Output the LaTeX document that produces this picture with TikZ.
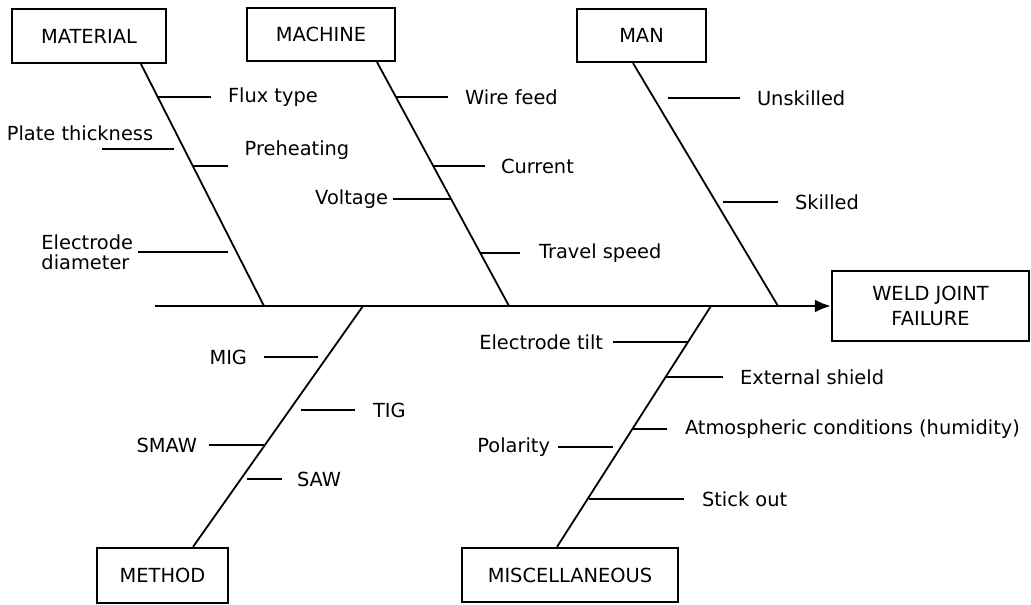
\documentclass[tikz,border=0pt]{standalone}
\usepackage{fontspec}
\setmainfont{DejaVu Sans}
\usetikzlibrary{arrows.meta,positioning}

\begin{document}
\begin{tikzpicture}[x=0.5pt,y=-0.5pt]
\tikzstyle{category} = [rectangle, draw, line width=1.1pt, inner sep=0pt,
font=\fontsize{9.7}{12.5}\selectfont, align=center]
\tikzstyle{cause} = [inner sep=0pt, outer sep=0pt,
font=\fontsize{9.7}{10}\selectfont, align=left]
\tikzstyle{bone} = [draw, line width=0.9pt]
\tikzstyle{tick} = [draw, line width=0.8pt]
\tikzstyle{spine} = [draw, line width=1.3pt, -{Latex[length=8pt,width=6.5pt]}]
\useasboundingbox (0,0) rectangle (1031,604);

% categories
\node [category, minimum width=77pt, minimum height=27pt] (material) at (89,36) {MATERIAL};
\node [category, minimum width=74pt, minimum height=26.5pt] (machine) at (321,34.5) {MACHINE};
\node [category, minimum width=64.5pt, minimum height=26.5pt] (man) at (641.5,35.5) {MAN};
\node [category, minimum width=65.5pt, minimum height=27.5pt] (method) at (162.5,575.5) {METHOD};
\node [category, minimum width=108pt, minimum height=27pt] (misc) at (570,575) {MISCELLANEOUS};
\node [category, minimum width=98.5pt, minimum height=35pt] (weld) at (930.5,306) {WELD JOINT\\FAILURE};

% spine
\coordinate (tail) at (155,306);
\path [spine] (tail) -- (weld);

% bones
\coordinate (matS) at (264,306);
\coordinate (macS) at (509,306);
\coordinate (manS) at (778,306);
\coordinate (metS) at (363,306);
\coordinate (misS) at (711,306);
\path [bone] ([xshift=26pt]material.south) -- (matS);
\path [bone] ([xshift=28pt]machine.south) -- (macS);
\path [bone] ([xshift=-4.25pt]man.south) -- (manS);
\path [bone] ([xshift=15.25pt]method.north) -- (metS);
\path [bone] ([xshift=-6.5pt]misc.north) -- (misS);

% material
\coordinate (fluxB) at (158,97);
\node [cause, right=35pt of fluxB] (flux) {Flux type};
\path [tick, shorten >=8.5pt] (fluxB) -- (flux);
\coordinate (plateB) at (174,149);
\coordinate (plateT) at (102,149);
\node [cause] (plate) at (80,133) {Plate thickness};
\path [tick] (plateB) -- (plateT);
\coordinate (preheatB) at (193,166);
\coordinate (preheatT) at (228,166);
\node [cause] (preheat) at (297,150) {Preheating};
\path [tick] (preheatB) -- (preheatT);
\coordinate (diamB) at (228,252);
\node [cause, left=47.5pt of diamB] (diam) {Electrode\\diameter};
\path [tick, shorten >=2.5pt] (diamB) -- (diam);

% machine
\coordinate (wireB) at (396,97);
\node [cause, right=34.5pt of wireB] (wire) {Wire feed};
\path [tick, shorten >=8.5pt] (wireB) -- (wire);
\coordinate (currentB) at (434,166);
\node [cause, right=33.5pt of currentB] (current) {Current};
\path [tick, shorten >=8pt] (currentB) -- (current);
\coordinate (voltageB) at (451,199);
\node [cause, left=31.5pt of voltageB] (voltage) {Voltage};
\path [tick, shorten >=2.5pt] (voltageB) -- (voltage);
\coordinate (travelB) at (480,253);
\node [cause, right=29.5pt of travelB] (travel) {Travel speed};
\path [tick, shorten >=9.5pt] (travelB) -- (travel);

% man
\coordinate (unskB) at (668,98);
\node [cause, right=44.5pt of unskB] (unsk) {Unskilled};
\path [tick, shorten >=8.5pt] (unskB) -- (unsk);
\coordinate (skB) at (723,202);
\node [cause, right=36pt of skB] (sk) {Skilled};
\path [tick, shorten >=8.5pt] (skB) -- (sk);

% method
\coordinate (migB) at (318,357);
\node [cause, left=35.5pt of migB] (mig) {MIG};
\path [tick, shorten >=8.5pt] (migB) -- (mig);
\coordinate (tigB) at (301,410);
\node [cause, right=36pt of tigB] (tig) {TIG};
\path [tick, shorten >=9pt] (tigB) -- (tig);
\coordinate (smawB) at (265,445);
\node [cause, left=34pt of smawB] (smaw) {SMAW};
\path [tick, shorten >=6pt] (smawB) -- (smaw);
\coordinate (sawB) at (247,479);
\node [cause, right=25pt of sawB] (saw) {SAW};
\path [tick, shorten >=7.5pt] (sawB) -- (saw);

% miscellaneous
\coordinate (tiltB) at (688,342);
\node [cause, left=42.5pt of tiltB] (tilt) {Electrode tilt};
\path [tick, shorten >=5pt] (tiltB) -- (tilt);
\coordinate (shieldB) at (666,377);
\node [cause, right=37pt of shieldB] (shield) {External shield};
\path [tick, shorten >=8.5pt] (shieldB) -- (shield);
\coordinate (atmosB) at (633,429);
\node [cause, right=26pt of atmosB] (atmos) {Atmospheric conditions (humidity)};
\path [tick, shorten >=9pt] (atmosB) -- (atmos);
\coordinate (polB) at (613,447);
\node [cause, left=31.5pt of polB] (pol) {Polarity};
\path [tick, shorten >=4pt] (polB) -- (pol);
\coordinate (stickB) at (589,499);
\node [cause, right=56.5pt of stickB] (stick) {Stick out};
\path [tick, shorten >=9pt] (stickB) -- (stick);

\end{tikzpicture}
\end{document}
